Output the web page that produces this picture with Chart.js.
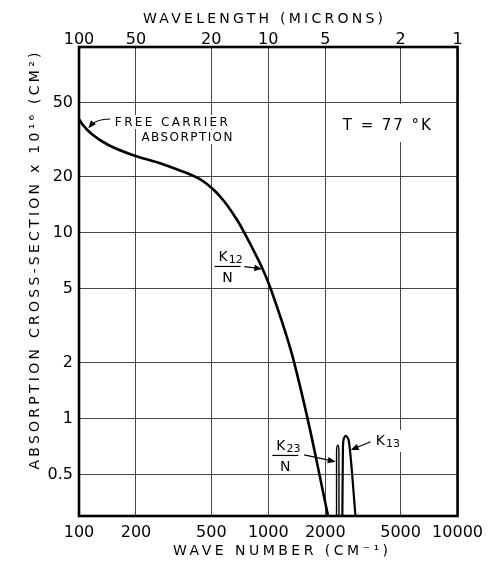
<!DOCTYPE html>
<html><head><meta charset="utf-8">
<script src="https://cdn.jsdelivr.net/npm/chart.js@4.4.1/dist/chart.umd.min.js"></script>
<style>html,body{margin:0;padding:0;background:#fff;}canvas{display:block;}</style>
</head><body>
<canvas id="c" width="490" height="561"></canvas>
<script>
// ---- data ----
const waveNumberTicks = [100, 200, 500, 1000, 2000, 5000, 10000];
const wavelengthTicks = [100, 50, 20, 10, 5, 2, 1];
const sigmaTicks = [0.5, 1, 2, 5, 10, 20, 50];

const freeCarrierWaveNumber = [100, 105, 117.1, 142.1, 197.3, 260.5, 320, 393, 433, 477.5, 532, 587, 646, 704, 748, 824, 930, 1012, 1115, 1259, 1338, 1510, 1684, 1855, 2069, 2100];
const freeCarrierSigma      = [40.9, 38.0, 33.9, 29.8, 26.0, 23.9, 22.2, 20.5, 19.5, 18.2, 16.5, 14.7, 12.85, 11.2, 10.0, 8.29, 6.46, 5.25, 3.97, 2.72, 2.20, 1.34, 0.822, 0.513, 0.3, 0.28];

const k23WaveNumber = [2294, 2295, 2305, 2329, 2352, 2362, 2364];
const k23Sigma      = [0.28, 0.66, 0.71, 0.72, 0.71, 0.66, 0.28];

const k13WaveNumber = [2461, 2480, 2510, 2560, 2615, 2670, 2905];
const k13Sigma      = [0.28, 0.70, 0.785, 0.81, 0.795, 0.75, 0.28];

const xTitle = 'WAVE NUMBER (CM⁻¹)';
const x2Title = 'WAVELENGTH (MICRONS)';
const yTitle = 'ABSORPTION CROSS-SECTION x 10¹⁶ (CM²)';

const pts = (xs, ys) => xs.map((x, i) => ({x: x, y: ys[i]}));
const FONT = '"DejaVu Sans", sans-serif';

// annotation anchors in data units (wave number, cross-section)
const notes = {
  free1: {wn: 154.7, s: 39.5, text: 'FREE CARRIER'},
  free2: {wn: 213.8, s: 32.8, text: 'ABSORPTION'},
  freeArrow: {from: [146, 41], ctrl: [123, 41], to: [112, 36.5]},
  temp: {wn: 4230, s: 38.5, text: 'T = 77 °K'},
  k12: {wn: 520, s: 6.64, main: 'K', sub: '12', den: 'N', arrowFrom: [747, 6.58], arrowTo: [930, 6.4]},
  k23: {wn: 1050, s: 0.639, main: 'K', sub: '23', den: 'N', arrowFrom: [1547, 0.639], arrowTo: [2272, 0.588]},
  k13: {wn: 3700, s: 0.769, main: 'K', sub: '13', arrowFrom: [3470, 0.753], arrowTo: [2724, 0.679]}
};

function X(c, v) { return c.scales.x.getPixelForValue(v); }
function Y(c, v) { return c.scales.y.getPixelForValue(v); }

function textCentered(ctx, text, x, cy, size, targetWidth, align) {
  ctx.font = size + 'px ' + FONT;
  ctx.letterSpacing = '0px';
  const w0 = ctx.measureText(text).width;
  const n = Array.from(text).length;
  let sp = 0;
  if (targetWidth) sp = (targetWidth - w0) / (n - 1);
  ctx.letterSpacing = sp + 'px';
  const w = w0 + sp * (n - 1);
  let left = x;
  if (align === 'center') left = x - w / 2;
  else if (align === 'right') left = x - w;
  ctx.textAlign = 'left';
  ctx.textBaseline = 'alphabetic';
  ctx.fillText(text, left, cy + size * 0.365);
  ctx.letterSpacing = '0px';
  return {left: left, width: w};
}
function arrowHead(ctx, fx, fy, tx, ty) {
  const a = Math.atan2(ty - fy, tx - fx);
  const L = 8, W = 3.2;
  ctx.beginPath();
  ctx.moveTo(tx, ty);
  ctx.lineTo(tx - L * Math.cos(a) + W * Math.sin(a), ty - L * Math.sin(a) - W * Math.cos(a));
  ctx.lineTo(tx - L * Math.cos(a) - W * Math.sin(a), ty - L * Math.sin(a) + W * Math.cos(a));
  ctx.closePath();
  ctx.fill();
}
function straightArrow(c, ctx, from, to) {
  const fx = X(c, from[0]), fy = Y(c, from[1]), tx = X(c, to[0]), ty = Y(c, to[1]);
  const a = Math.atan2(ty - fy, tx - fx);
  ctx.beginPath();
  ctx.moveTo(fx, fy);
  ctx.lineTo(tx - 6 * Math.cos(a), ty - 6 * Math.sin(a));
  ctx.stroke();
  arrowHead(ctx, fx, fy, tx, ty);
}

const decor = {
  id: 'decor',
  beforeDatasetsDraw(c) {
    const ctx = c.ctx;
    ctx.save();
    ctx.fillStyle = '#fff';
    // white patches behind lettering (breaks grid lines as in the original)
    let x = X(c, notes.free1.wn), y = Y(c, notes.free1.s);
    ctx.fillRect(x - 3, y - 7, 119, 14);
    x = X(c, notes.free2.wn); y = Y(c, notes.free2.s);
    ctx.fillRect(x - 3, y - 7, 97, 14);
    x = X(c, notes.temp.wn); y = Y(c, notes.temp.s);
    ctx.fillRect(x - 48, y - 20, 96, 38);
    x = X(c, notes.k13.wn); y = Y(c, notes.k13.s);
    ctx.fillRect(x - 4, y - 10, 32, 22);
    ctx.restore();
  },
  afterDatasetsDraw(c) {
    const ctx = c.ctx;
    const a = c.chartArea;
    ctx.save();
    // frame
    ctx.strokeStyle = '#000';
    ctx.lineWidth = 2.6;
    ctx.strokeRect(a.left, a.top, a.right - a.left, a.bottom - a.top);

    ctx.fillStyle = '#000';
    ctx.strokeStyle = '#000';
    ctx.lineWidth = 1.2;
    // free carrier label
    textCentered(ctx, notes.free1.text, X(c, notes.free1.wn), Y(c, notes.free1.s), 12, 113, 'left');
    textCentered(ctx, notes.free2.text, X(c, notes.free2.wn), Y(c, notes.free2.s), 12, 91, 'left');
    // curved arrow
    const fa = notes.freeArrow;
    const sx = X(c, fa.from[0]), sy = Y(c, fa.from[1]);
    const cx = X(c, fa.ctrl[0]), cy = Y(c, fa.ctrl[1]);
    const ex = X(c, fa.to[0]), ey = Y(c, fa.to[1]);
    ctx.beginPath();
    ctx.moveTo(sx, sy);
    ctx.quadraticCurveTo(cx, cy, ex + 3, ey - 3);
    ctx.stroke();
    arrowHead(ctx, cx, cy, ex, ey);

    // temperature
    textCentered(ctx, notes.temp.text, X(c, notes.temp.wn), Y(c, notes.temp.s), 15, 88, 'center');

    // fractions K/N
    for (const k of ['k12', 'k23']) {
      const n = notes[k];
      const lx = X(c, n.wn), ly = Y(c, n.s);
      ctx.beginPath();
      ctx.moveTo(lx, ly + 0.5);
      ctx.lineTo(lx + 26, ly + 0.5);
      ctx.stroke();
      const r = textCentered(ctx, n.main, lx + 4, ly - 10, 14, 0, 'left');
      textCentered(ctx, n.sub, r.left + r.width + 1, ly - 7, 11, 0, 'left');
      textCentered(ctx, n.den, lx + 13, ly + 11, 14, 0, 'center');
      straightArrow(c, ctx, n.arrowFrom, n.arrowTo);
    }
    // K13
    {
      const n = notes.k13;
      const lx = X(c, n.wn), ly = Y(c, n.s);
      const r = textCentered(ctx, n.main, lx, ly, 14, 0, 'left');
      textCentered(ctx, n.sub, r.left + r.width + 1, ly + 3, 11, 0, 'left');
      straightArrow(c, ctx, n.arrowFrom, n.arrowTo);
    }

    // axis titles
    textCentered(ctx, x2Title, 263, 18, 14, 240, 'center');
    textCentered(ctx, xTitle, 280.5, 550, 14, 215, 'center');
    ctx.translate(34, 261);
    ctx.rotate(-Math.PI / 2);
    textCentered(ctx, yTitle, 0, 0, 14, 417, 'center');
    ctx.restore();
  }
};

const gridColor = (ctx) => {
  const v = ctx.tick && ctx.tick.value;
  return (v === 100 || v === 10000) ? 'rgba(0,0,0,0)' : 'rgba(0,0,0,0.72)';
};

new Chart(document.getElementById('c'), {
  type: 'scatter',
  data: {
    datasets: [
      {label: 'Free carrier', data: pts(freeCarrierWaveNumber, freeCarrierSigma), showLine: true, borderColor: '#000', borderWidth: 2.6, pointRadius: 0, cubicInterpolationMode: 'monotone'},
      {label: 'K23/N', data: pts(k23WaveNumber, k23Sigma), showLine: true, borderColor: '#000', borderWidth: 1.4, pointRadius: 0, cubicInterpolationMode: 'monotone'},
      {label: 'K13', data: pts(k13WaveNumber, k13Sigma), showLine: true, borderColor: '#000', borderWidth: 2.2, pointRadius: 0, cubicInterpolationMode: 'monotone'}
    ]
  },
  options: {
    responsive: false,
    animation: false,
    devicePixelRatio: 1,
    layout: {padding: {left: 0, right: 31, top: 0, bottom: 0}},
    plugins: {legend: {display: false}, tooltip: {enabled: false}},
    scales: {
      x: {
        type: 'logarithmic', position: 'bottom', min: 100, max: 10000,
        afterBuildTicks: (s) => { s.ticks = waveNumberTicks.map(v => ({value: v})); },
        afterFit: (s) => { s.height = 45; },
        ticks: {callback: (v, i) => String(waveNumberTicks[i]), font: {family: FONT, size: 16}, color: '#000', padding: 7, maxRotation: 0, autoSkip: false},
        grid: {color: gridColor, lineWidth: 1, drawTicks: false},
        border: {display: false},
        title: {display: false, text: xTitle}
      },
      x2: {
        type: 'logarithmic', position: 'top', min: 100, max: 10000,
        afterBuildTicks: (s) => { s.ticks = wavelengthTicks.map(l => ({value: 10000 / l})); },
        afterFit: (s) => { s.height = 47; },
        ticks: {callback: (v, i) => String(wavelengthTicks[i]), font: {family: FONT, size: 16}, color: '#000', padding: -2, maxRotation: 0, autoSkip: false},
        grid: {display: false, drawTicks: false},
        border: {display: false},
        title: {display: false, text: x2Title}
      },
      y: {
        type: 'logarithmic', position: 'left', min: 0.3, max: 100,
        afterBuildTicks: (s) => { s.ticks = sigmaTicks.map(v => ({value: v})); },
        afterFit: (s) => { s.width = 79; },
        ticks: {callback: (v, i) => String(sigmaTicks[i]), font: {family: FONT, size: 16}, color: '#000', padding: 6, autoSkip: false},
        grid: {color: 'rgba(0,0,0,0.72)', lineWidth: 1, drawTicks: false},
        border: {display: false},
        title: {display: false, text: yTitle}
      }
    }
  },
  plugins: [decor]
});
</script>
</body></html>
